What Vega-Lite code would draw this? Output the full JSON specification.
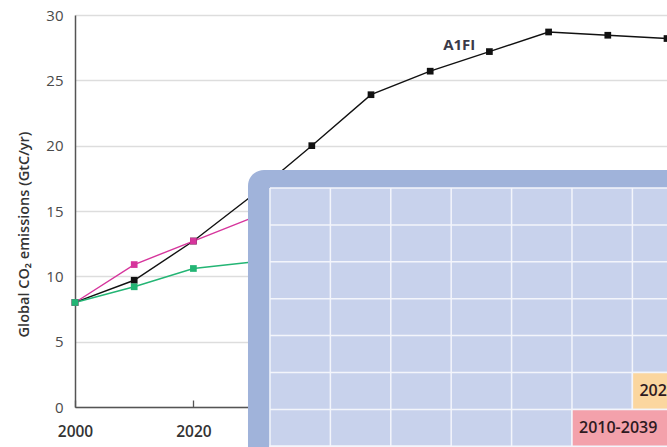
{
  "$schema": "https://vega.github.io/schema/vega-lite/v6.json",
  "width": 592,
  "height": 392,
  "autosize": {"type": "none"},
  "padding": {"left": 75, "top": 15, "right": 0, "bottom": 40},
  "background": "white",
  "config": {"font": "Open Sans", "view": {"stroke": null}},
  "datasets": {
    "emissions": [
      {"scenario": "A1FI", "year": 2000, "value": 8.0},
      {"scenario": "A1FI", "year": 2010, "value": 9.7},
      {"scenario": "A1FI", "year": 2020, "value": 12.7},
      {"scenario": "A1FI", "year": 2030, "value": 16.2},
      {"scenario": "A1FI", "year": 2040, "value": 20.0},
      {"scenario": "A1FI", "year": 2050, "value": 23.9},
      {"scenario": "A1FI", "year": 2060, "value": 25.7},
      {"scenario": "A1FI", "year": 2070, "value": 27.2},
      {"scenario": "A1FI", "year": 2080, "value": 28.7},
      {"scenario": "A1FI", "year": 2090, "value": 28.45},
      {"scenario": "A1FI", "year": 2100, "value": 28.2},
      {"scenario": "A2", "year": 2000, "value": 8.0},
      {"scenario": "A2", "year": 2010, "value": 10.9},
      {"scenario": "A2", "year": 2020, "value": 12.7},
      {"scenario": "A2", "year": 2030, "value": 14.5},
      {"scenario": "B1", "year": 2000, "value": 8.0},
      {"scenario": "B1", "year": 2010, "value": 9.2},
      {"scenario": "B1", "year": 2020, "value": 10.6},
      {"scenario": "B1", "year": 2030, "value": 11.1}
    ],
    "labels": [
      {"text": "A1FI", "year": 2064.9, "value": 27.7}
    ],
    "frame": [
      {"u1": -0.364, "u2": 9, "v1": -0.488, "v2": 9}
    ],
    "inner": [
      {"u1": 0, "u2": 9, "v1": 0, "v2": 9}
    ],
    "vlines": [
      {"u": 0, "v1": 0, "v2": 9},
      {"u": 1, "v1": 0, "v2": 9},
      {"u": 2, "v1": 0, "v2": 9},
      {"u": 3, "v1": 0, "v2": 9},
      {"u": 4, "v1": 0, "v2": 9},
      {"u": 5, "v1": 0, "v2": 9},
      {"u": 6, "v1": 0, "v2": 9},
      {"u": 7, "v1": 0, "v2": 9}
    ],
    "hlines": [
      {"v": 0, "u1": 0, "u2": 9},
      {"v": 1, "u1": 0, "u2": 9},
      {"v": 2, "u1": 0, "u2": 9},
      {"v": 3, "u1": 0, "u2": 9},
      {"v": 4, "u1": 0, "u2": 9},
      {"v": 5, "u1": 0, "u2": 9},
      {"v": 6, "u1": 0, "u2": 9},
      {"v": 7, "u1": 0, "u2": 9}
    ],
    "cells": [
      {"kind": "2020s", "label": "2020-2049", "u1": 6, "u2": 9, "v1": 5, "v2": 6},
      {"kind": "2010s", "label": "2010-2039", "u1": 5, "u2": 9, "v1": 6, "v2": 7},
      {"kind": "2000s", "label": "", "u1": 0, "u2": 3, "v1": 7, "v2": 8}
    ]
  },
  "layer": [
    {
      "layer": [
        {
          "data": {"name": "emissions"},
          "mark": {"type": "line", "strokeWidth": 1.4, "point": {"shape": "square", "size": 45, "filled": true, "opacity": 1}},
          "encoding": {
            "x": {
              "field": "year", "type": "quantitative",
              "scale": {"domain": [2000, 2100], "nice": false, "zero": false},
              "axis": {
                "values": [2000, 2020, 2040, 2060, 2080],
                "format": "d", "title": null, "grid": false,
                "labelFontSize": 15.5, "labelColor": "#333333", "labelFontWeight": 600,
                "labelPadding": 24, "labelFlush": false,
                "domainColor": "#555555", "domainWidth": 1.5,
                "tickColor": "#555555", "tickWidth": 1.3, "tickSize": -7
              }
            },
            "y": {
              "field": "value", "type": "quantitative",
              "scale": {"domain": [0, 30], "nice": false},
              "axis": {
                "values": [0, 5, 10, 15, 20, 25, 30],
                "title": "Global CO₂ emissions (GtC/yr)",
                "titleFontSize": 14.5, "titleFontWeight": 600, "titleColor": "#333333",
                "titlePadding": 14, "titleY": 219,
                "labelFontSize": 15, "labelColor": "#4a4a4a", "labelPadding": 12,
                "ticks": false,
                "domainColor": "#555555", "domainWidth": 1.5,
                "grid": true, "gridColor": "#dddddd", "gridWidth": 1.6
              }
            },
            "color": {
              "field": "scenario", "type": "nominal",
              "scale": {"domain": ["A1FI", "A2", "B1"], "range": ["#111111", "#d6359c", "#23b574"]},
              "legend": null
            }
          }
        },
        {
          "data": {"name": "labels"},
          "mark": {"type": "text", "fontSize": 15, "fontWeight": 700, "color": "#3a3a48", "align": "center", "baseline": "middle"},
          "encoding": {
            "x": {"field": "year", "type": "quantitative"},
            "y": {"field": "value", "type": "quantitative"},
            "text": {"field": "text"}
          }
        }
      ]
    },
    {
      "layer": [
        {
          "data": {"name": "frame"},
          "mark": {"type": "rect", "cornerRadius": 16, "color": "#a0b3da"},
          "encoding": {
            "x": {"field": "u1", "type": "quantitative", "scale": {"domain": [-3.228, 6.573], "nice": false, "zero": false}, "axis": null},
            "x2": {"field": "u2"},
            "y": {"field": "v1", "type": "quantitative", "scale": {"domain": [-4.688, 5.935], "nice": false, "zero": false, "reverse": true}, "axis": null},
            "y2": {"field": "v2"}
          }
        },
        {
          "data": {"name": "inner"},
          "mark": {"type": "rect", "color": "#c8d2ec"},
          "encoding": {
            "x": {"field": "u1", "type": "quantitative", "axis": null},
            "x2": {"field": "u2"},
            "y": {"field": "v1", "type": "quantitative", "axis": null},
            "y2": {"field": "v2"}
          }
        },
        {
          "data": {"name": "vlines"},
          "mark": {"type": "rule", "color": "#f3f5fb", "strokeWidth": 1.5},
          "encoding": {
            "x": {"field": "u", "type": "quantitative", "axis": null},
            "y": {"field": "v1", "type": "quantitative", "axis": null},
            "y2": {"field": "v2"}
          }
        },
        {
          "data": {"name": "hlines"},
          "mark": {"type": "rule", "color": "#f3f5fb", "strokeWidth": 1.5},
          "encoding": {
            "y": {"field": "v", "type": "quantitative", "axis": null},
            "x": {"field": "u1", "type": "quantitative", "axis": null},
            "x2": {"field": "u2"}
          }
        },
        {
          "data": {"name": "cells"},
          "mark": {"type": "rect", "stroke": "#f3f5fb", "strokeWidth": 1.5},
          "encoding": {
            "x": {"field": "u1", "type": "quantitative", "axis": null},
            "x2": {"field": "u2"},
            "y": {"field": "v1", "type": "quantitative", "axis": null},
            "y2": {"field": "v2"},
            "fill": {
              "field": "kind", "type": "nominal",
              "scale": {"domain": ["2020s", "2010s", "2000s"], "range": ["#fbd69f", "#f3a1ab", "#e4eeb2"]},
              "legend": null
            }
          }
        },
        {
          "data": {"name": "cells"},
          "mark": {"type": "text", "align": "left", "baseline": "middle", "dx": 7, "dy": 18.5, "fontSize": 16, "fontWeight": 600, "color": "#2e1a1f"},
          "encoding": {
            "x": {"field": "u1", "type": "quantitative", "axis": null},
            "y": {"field": "v1", "type": "quantitative", "axis": null},
            "text": {"field": "label"}
          }
        }
      ]
    }
  ],
  "resolve": {"scale": {"x": "independent", "y": "independent", "color": "independent", "fill": "independent"}}
}
